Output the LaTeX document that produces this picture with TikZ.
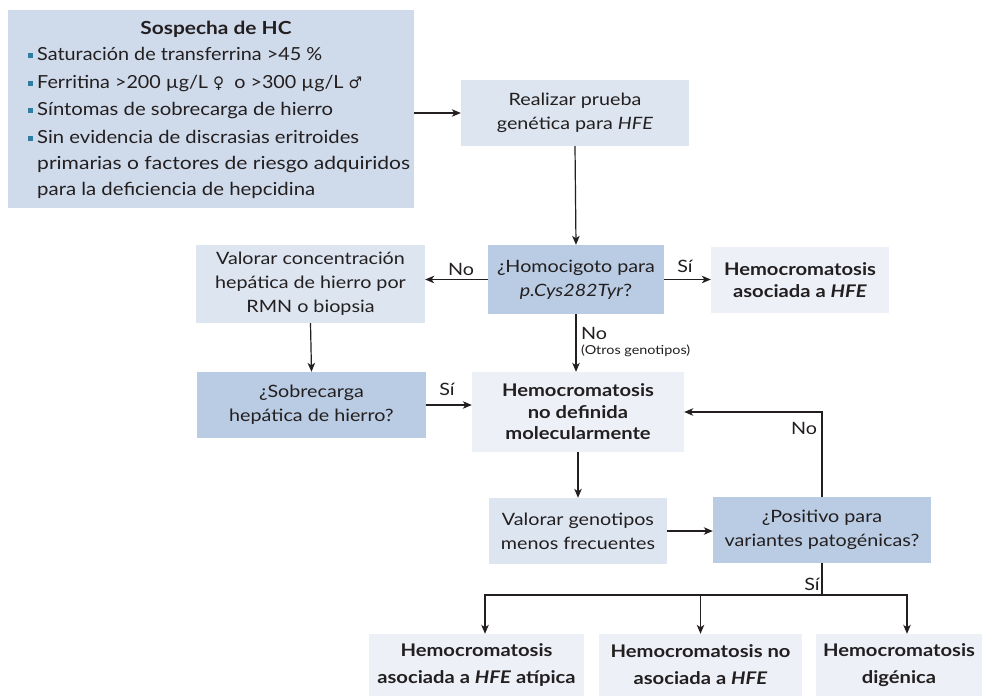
\documentclass[tikz,border=0pt]{standalone}
\usepackage{fontspec}
\usepackage{graphicx}
\setmainfont{Lato}[FakeStretch=1.16]
\newfontfamily\symf{DejaVu Sans}
\usetikzlibrary{arrows.meta}
\definecolor{cHC}{RGB}{207,219,235}
\definecolor{cDec}{RGB}{185,204,227}
\definecolor{cAct}{RGB}{221,229,240}
\definecolor{cRes}{RGB}{237,241,247}
\definecolor{txt}{RGB}{35,31,32}
\definecolor{bulc}{RGB}{47,125,160}
\newcommand{\bul}{\makebox[9pt][l]{\textcolor{bulc}{\rule[2pt]{5pt}{5pt}}}}
\newcommand{\fitw}[2]{\resizebox{#1}{\height}{#2}}
\begin{document}
\begin{tikzpicture}[x=1pt,y=-1pt,
  bx/.style={inner sep=0pt, align=center, text=txt, font=\fontsize{17}{24}\selectfont},
  res/.style={bx, fill=cRes, font=\bfseries\fontsize{17.4}{21.5}\selectfont},
  resb/.style={bx, fill=cRes, font=\bfseries\fontsize{17.4}{27}\selectfont},
  lbl/.style={inner sep=0pt, text=txt, font=\fontsize{17}{20}\selectfont},
  ln/.style={anchor=base west, inner sep=0pt, text=txt, font=\fontsize{18}{20}\selectfont},
  arr/.style={-{Stealth[length=9pt,width=7.5pt,inset=2.5pt]}, line width=1.2pt, draw=txt},
  lin/.style={line width=1.2pt, draw=txt}]
\useasboundingbox (0,0) rectangle (982,696);
\fill[white] (0,0) rectangle (982,696);
% suspicion box
\node[fill=cHC, minimum width=406pt, minimum height=198pt, inner sep=0pt] (hc) at (211,109) {};
\node[anchor=base, inner sep=0pt, text=txt, font=\bfseries\fontsize{18}{20}\selectfont] (hct) at (216,34) {Sospecha de HC};
\node[ln] (l1) at (28,60) {\bul\fitw{285pt}{Saturación de transferrina >45~\%}};
\node[ln] (l2) at (28,88) {\bul\fitw{325pt}{Ferritina >200 µg/L {\symf\fontsize{16}{18}\selectfont ♀}\ \ o >300 µg/L {\symf\fontsize{16}{18}\selectfont ♂}}};
\node[ln] (l3) at (28,115) {\bul\fitw{296pt}{Síntomas de sobrecarga de hierro}};
\node[ln] (l4) at (28,143) {\bul\fitw{322pt}{Sin evidencia de discrasias eritroides}};
\node[ln] (l5) at (37,169) {\fitw{373pt}{primarias o factores de riesgo adquiridos}};
\node[ln] (l6) at (37,195) {\fitw{278pt}{para la deficiencia de hepcidina}};
% flow nodes
\node[bx, fill=cAct, minimum width=228pt, minimum height=66pt] (real) at (575,113) {Realizar prueba\\genética para \textit{HFE}};
\node[bx, fill=cDec, minimum width=176pt, minimum height=69pt] (homo) at (576,279.5) {¿Homocigoto para\\\textit{p.Cys282Tyr}?};
\node[bx, fill=cAct, minimum width=229pt, minimum height=78pt] (vconc) at (310.5,284) {Valorar concentración\\hepática de hierro por\\RMN o biopsia};
\node[res, minimum width=178pt, minimum height=66pt] (hfe) at (800,280) {Hemocromatosis\\asociada a \textit{HFE}};
\node[bx, fill=cDec, minimum width=229pt, minimum height=66pt] (sobre) at (311.5,405) {¿Sobrecarga\\hepática de hierro?};
\node[res, minimum width=212pt, minimum height=80pt] (nodef) at (578,412) {Hemocromatosis\\no definida\\molecularmente};
\node[bx, fill=cAct, minimum width=178pt, minimum height=66pt] (vgen) at (578,531) {Valorar genotipos\\menos frecuentes};
\node[bx, fill=cDec, minimum width=218pt, minimum height=66pt] (pos) at (822,530) {¿Positivo para\\variantes patogénicas?};
\node[resb, minimum width=215pt, minimum height=62pt] (b1) at (476.5,665) {Hemocromatosis\\asociada a \textit{HFE} atípica};
\node[resb, minimum width=203pt, minimum height=62pt] (b2) at (700.5,665) {Hemocromatosis no\\asociada a \textit{HFE}};
\node[resb, minimum width=166pt, minimum height=62pt] (b3) at (899,665) {Hemocromatosis\\digénica};
% connectors
\draw[arr] (hc.east |- real.west) -- (real.west);
\draw[arr] (real.south) -- (homo.north);
\draw[arr] (homo.west) -- (homo.west -| vconc.east);
\draw[arr] (homo.east) -- (homo.east -| hfe.west);
\draw[arr] (homo.south) -- (homo.south |- nodef.north);
\draw[arr] (vconc.south) -- (sobre.north);
\draw[arr] (sobre.east) -- (sobre.east -| nodef.west);
\draw[arr] (nodef.south) -- (vgen.north);
\draw[arr] (vgen.east) -- (vgen.east -| pos.west);
\draw[arr] (pos.north) |- (nodef.east);
\coordinate (bj) at (822,595);
\draw[lin] (pos.south) -- (bj);
\draw[arr] (bj) -| ([xshift=8.5pt]b1.north);
\draw[arr] (bj) -| (b2.north);
\draw[arr] (bj) -| ([xshift=8pt]b3.north);
% labels
\node[lbl, anchor=base] (tno1) at (461,275) {No};
\node[lbl, anchor=base] (tsi1) at (685,272) {Sí};
\node[lbl, anchor=base west] (tno2) at (581,339) {No};
\node[anchor=base west, inner sep=0pt, text=txt, font=\fontsize{12.4}{13}\selectfont] (totros) at (581,354) {(Otros genotipos)};
\node[lbl, anchor=base] (tsi2) at (447,395) {Sí};
\node[lbl, anchor=base] (tno3) at (804,434) {No};
\node[lbl, anchor=base] (tsi3) at (812,590) {Sí};
\end{tikzpicture}
\end{document}
